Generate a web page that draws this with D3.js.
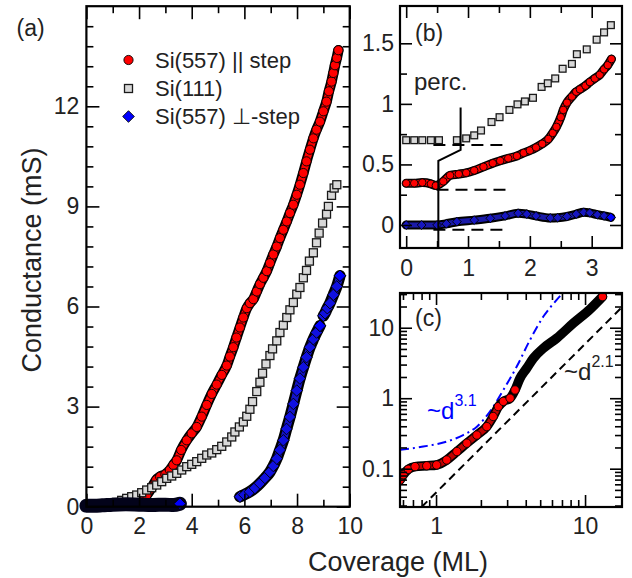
<!DOCTYPE html>
<html><head><meta charset="utf-8">
<script src="https://cdn.jsdelivr.net/npm/d3@7"></script>
<style>
html,body{margin:0;padding:0;background:#fff;}
svg{display:block;}
</style></head><body>
<svg id="chart" width="632" height="578"></svg>
<script>
// ---------------- DATA ----------------
// Panel (a): Conductance (mS) vs Coverage (ML)
const legendLabels = ["Si(557) || step", "Si(111)", "Si(557) \u22A5-step"];
const aTicksX = [0, 2, 4, 6, 8, 10];
const aMinorX = [1, 3, 5, 7, 9];
const aTicksY = [0, 3, 6, 9, 12];
const aMinorY = [0.6,1.2,1.8,2.4,3.6,4.2,4.8,5.4,6.6,7.2,7.8,8.4,9.6,10.2,10.8,11.4,12.6,13.2,13.8,14.4];

const redA = [[0,0.0],[0.5,0.02],[1.0,0.05],[1.5,0.08],[1.9,0.12],[2.1,0.2],[2.29,0.35],[2.5,0.6],[2.65,0.8],[2.8,0.9],[3.0,0.97],[3.17,1.1],[3.3,1.25],[3.43,1.39],[3.6,1.7],[3.81,1.99],[4.0,2.2],[4.19,2.39],[4.38,2.7],[4.57,3.05],[4.76,3.38],[4.95,3.66],[5.14,3.95],[5.33,4.23],[5.45,4.5],[5.58,4.78],[5.7,5.07],[5.83,5.37],[5.96,5.67],[6.09,5.95],[6.21,6.1],[6.34,6.22],[6.47,6.45],[6.59,6.67],[6.72,6.86],[6.85,7.06],[6.97,7.3],[7.10,7.56],[7.23,7.8],[7.35,8.05],[7.48,8.3],[7.61,8.55],[7.73,8.8],[7.86,9.05],[7.99,9.35],[8.11,9.65],[8.24,10.0],[8.36,10.35],[8.49,10.7],[8.62,11.04],[8.74,11.3],[8.87,11.54],[9.0,11.85],[9.12,12.14],[9.21,12.45],[9.31,12.74],[9.38,13.0],[9.44,13.23],[9.51,13.45],[9.57,13.68]];

const greyA = [[0,0],[0.19,0.01],[0.38,0.02],[0.57,0.04],[0.77,0.06],[0.96,0.09],[1.15,0.13],[1.34,0.19],[1.53,0.25],[1.72,0.30],[1.91,0.35],[2.10,0.42],[2.29,0.50],[2.48,0.57],[2.67,0.65],[2.86,0.75],[3.05,0.85],[3.24,0.92],[3.43,1.00],[3.62,1.10],[3.81,1.20],[4.00,1.27],[4.19,1.35],[4.38,1.45],[4.57,1.55],[4.76,1.61],[4.95,1.71],[5.14,1.81],[5.33,1.94],[5.52,2.09],[5.64,2.24],[5.81,2.39],[5.96,2.54],[6.09,2.71],[6.21,2.92],[6.31,3.15],[6.47,3.45],[6.59,3.73],[6.69,4.00],[6.82,4.28],[6.97,4.53],[7.07,4.73],[7.23,4.97],[7.35,5.22],[7.48,5.44],[7.61,5.67],[7.73,5.90],[7.86,6.12],[7.99,6.37],[8.11,6.57],[8.24,6.86],[8.36,7.08],[8.47,7.36],[8.62,7.61],[8.74,7.91],[8.84,8.20],[8.97,8.50],[9.12,8.77],[9.19,9.00],[9.31,9.33],[9.41,9.55],[9.51,9.65]];

const blueA1 = [[0,0.03],[0.3,0.03],[0.6,0.04],[1.0,0.06],[1.5,0.07],[2.0,0.06],[2.5,0.05],[3.0,0.06],[3.3,0.05],[3.55,0.09]];
const blueA2 = [[5.83,0.30],[6.0,0.36],[6.21,0.45],[6.4,0.56],[6.59,0.70],[6.78,0.86],[6.97,1.04],[7.1,1.22],[7.23,1.44],[7.35,1.7],[7.48,1.99],[7.6,2.33],[7.73,2.69],[7.86,3.08],[7.99,3.48],[8.11,3.84],[8.24,4.18],[8.36,4.48],[8.49,4.78],[8.62,5.02],[8.74,5.22],[8.87,5.42]];
const blueA3 = [[9.0,5.72],[9.06,5.8],[9.15,5.95],[9.25,6.1],[9.38,6.35],[9.51,6.6],[9.63,6.92]];

// Panel (b): low-coverage detail (offset curves)
const bTicksX = [0, 1, 2, 3];
const bMinorX = [0.5, 1.5, 2.5];
const bTicksY = [0, 0.5, 1, 1.5];
const bMinorY = [0.25, 0.75, 1.25];
const greyB = [[0,0.70],[0.13,0.70],[0.26,0.70],[0.40,0.70],[0.53,0.70],[0.82,0.70],[0.97,0.715],[1.10,0.74],[1.21,0.78],[1.38,0.85],[1.51,0.89],[1.67,0.95],[1.80,0.996],[1.92,1.02],[2.05,1.05],[2.19,1.14],[2.29,1.17],[2.41,1.21],[2.53,1.29],[2.68,1.33],[2.76,1.41],[2.92,1.45],[3.08,1.53],[3.20,1.59],[3.31,1.65]];
const redB = [[0,0.344],[0.13,0.345],[0.26,0.35],[0.4,0.34],[0.48,0.325],[0.6,0.36],[0.71,0.41],[0.85,0.42],[0.97,0.43],[1.1,0.45],[1.25,0.48],[1.4,0.51],[1.52,0.53],[1.65,0.55],[1.79,0.57],[1.9,0.595],[2.0,0.615],[2.1,0.64],[2.2,0.67],[2.3,0.71],[2.37,0.76],[2.43,0.81],[2.5,0.89],[2.54,0.95],[2.6,1.01],[2.68,1.06],[2.75,1.10],[2.81,1.12],[2.9,1.15],[2.97,1.18],[3.05,1.21],[3.13,1.24],[3.2,1.285],[3.26,1.32],[3.32,1.37]];
const blueB = [[0,0.0],[0.25,0.0],[0.5,0.0],[0.65,0.01],[0.82,0.027],[1.1,0.04],[1.36,0.055],[1.6,0.075],[1.81,0.097],[1.95,0.09],[2.1,0.075],[2.33,0.058],[2.45,0.06],[2.6,0.07],[2.75,0.09],[2.87,0.105],[2.97,0.1],[3.09,0.085],[3.2,0.075],[3.31,0.063]];
const zeroGreyB = [[0.44,0.66],[1.65,0.66]];
const zeroRedB = [[0.49,0.29],[1.68,0.29]];
const zeroBlueB = [[0.44,-0.04],[1.65,-0.04]];
const percLineB = [[0.52,-0.19],[0.52,0.53],[0.88,0.62],[0.88,0.97]];

// Panel (c): log-log
const cTicksX = [1, 10];
const cMinorX = [0.6,0.7,0.8,0.9,2,3,4,5,6,7,8,9];
const cTicksY = [0.1, 1, 10];
const cMinorY = [0.03,0.04,0.05,0.06,0.07,0.08,0.09,0.2,0.3,0.4,0.5,0.6,0.7,0.8,0.9,2,3,4,5,6,7,8,9,20,30];
const redC = [[0.573,0.069],[0.603,0.082],[0.652,0.098],[0.723,0.107],[0.866,0.110],[1.01,0.113],[1.18,0.133],[1.38,0.175],[1.61,0.23],[1.88,0.30],[2.19,0.395],[2.42,0.55],[2.62,0.76],[2.83,0.90],[3.14,1.0],[3.39,1.31],[3.66,1.92],[4.06,2.66],[4.50,3.69],[5.25,5.12],[6.45,7.1],[8.35,11.6],[10.8,18.3],[13.1,27.6]];
const fit31 = [[0.573,0.185],[0.82,0.206],[1.12,0.235],[1.52,0.30],[1.88,0.395],[2.30,0.646],[2.83,1.31],[3.48,2.81],[4.27,6.7],[5.25,14.4],[6.45,24.8],[7.08,31]];
const fit21 = [[0.80,0.0286],[17.7,19.6]];

// ---------------- DRAWING ----------------
const FONT = '"Liberation Sans", Arial, Helvetica, sans-serif';
const TXT = "#222";
const svg = d3.select("#chart").attr("font-family", FONT);

function axes(g, x, y, o) {
  const [x0, x1] = x.range(), [y0, y1] = y.range();
  const add = (axis, tr) => {
    const a = g.append("g").attr("transform", tr).call(axis)
      .attr("font-family", FONT).attr("font-size", o.font);
    a.select(".domain").remove();
    a.selectAll("line").attr("stroke", "#000").attr("stroke-width", 1.6);
    a.selectAll("text").attr("fill", TXT);
    return a;
  };
  add(d3.axisBottom(x).tickValues(o.xMajor).tickSize(-o.major).tickPadding(o.xPad).tickFormat(o.fmt), `translate(0,${y0})`);
  add(d3.axisBottom(x).tickValues(o.xMinor).tickSize(-o.minor).tickFormat(""), `translate(0,${y0})`);
  add(d3.axisTop(x).tickValues(o.xMajor).tickSize(-o.major).tickFormat(""), `translate(0,${y1})`);
  add(d3.axisTop(x).tickValues(o.xMinor).tickSize(-o.minor).tickFormat(""), `translate(0,${y1})`);
  add(d3.axisLeft(y).tickValues(o.yMajor).tickSize(-o.major).tickPadding(o.yPad).tickFormat(o.fmt), `translate(${x0},0)`);
  add(d3.axisLeft(y).tickValues(o.yMinor).tickSize(-o.minor).tickFormat(""), `translate(${x0},0)`);
  add(d3.axisRight(y).tickValues(o.yMajor).tickSize(-o.major).tickFormat(""), `translate(${x1},0)`);
  add(d3.axisRight(y).tickValues(o.yMinor).tickSize(-o.minor).tickFormat(""), `translate(${x1},0)`);
}
function frame(g, x, y) {
  const [x0, x1] = x.range(), [y0, y1] = y.range();
  g.append("rect").attr("x", x0).attr("y", y1).attr("width", x1 - x0).attr("height", y0 - y1)
    .attr("fill", "none").attr("stroke", "#000").attr("stroke-width", 2.2);
}
function clip(id, x, y) {
  const [x0, x1] = x.range(), [y0, y1] = y.range();
  svg.append("clipPath").attr("id", id).append("rect")
    .attr("x", x0).attr("y", y1).attr("width", x1 - x0).attr("height", y0 - y1);
}
function band(g, data, x, y, w, color, curve) {
  g.append("path").datum(data)
    .attr("d", d3.line().x(d => x(d[0])).y(d => y(d[1])).curve(curve || d3.curveMonotoneX))
    .attr("fill", "none").attr("stroke", color).attr("stroke-width", w)
    .attr("stroke-linecap", "round").attr("stroke-linejoin", "round");
}
function line(g, data, x, y, w, color, dash, curve) {
  g.append("path").datum(data)
    .attr("d", d3.line().x(d => x(d[0])).y(d => y(d[1])).curve(curve || d3.curveLinear))
    .attr("fill", "none").attr("stroke", color).attr("stroke-width", w)
    .attr("stroke-dasharray", dash || null);
}
function circles(g, data, x, y, r, fill) {
  g.selectAll(null).data(data).join("circle")
    .attr("cx", d => x(d[0])).attr("cy", d => y(d[1])).attr("r", r)
    .attr("fill", fill).attr("stroke", "#000").attr("stroke-width", 0.9);
}
function squares(g, data, x, y, s, fill) {
  g.selectAll(null).data(data).join("rect")
    .attr("x", d => x(d[0]) - s / 2).attr("y", d => y(d[1]) - s / 2)
    .attr("width", s).attr("height", s)
    .attr("fill", fill).attr("stroke", "#1a1a1a").attr("stroke-width", 1.3);
}
function diamonds(g, data, x, y, r, fill) {
  g.selectAll(null).data(data).join("path")
    .attr("d", d => `M${x(d[0])},${y(d[1]) - r}L${x(d[0]) + r},${y(d[1])}L${x(d[0])},${y(d[1]) + r}L${x(d[0]) - r},${y(d[1])}Z`)
    .attr("fill", fill).attr("stroke", "#000").attr("stroke-width", 0.9);
}

// ----- Panel (a) -----
const xa = d3.scaleLinear([0, 10], [86.4, 349.7]);
const ya = d3.scaleLinear([0, 15], [506.7, 6.2]);
const ga = svg.append("g");
const da = ga.append("g");
// red
band(da, redA, xa, ya, 10.5, "#000");
band(da, redA, xa, ya, 7, "#ff0000");
circles(da, redA, xa, ya, 4.6, "#ff0000");
// grey squares
squares(da, greyA, xa, ya, 8, "#d8d8d8");
// blue
band(da, blueA1, xa, ya, 14, "#03031a");
diamonds(da, blueA1.slice(-1), xa, ya, 5.8, "#0000ff");
[blueA2, blueA3].forEach(s => {
  band(da, s, xa, ya, 11.5, "#000");
  band(da, s, xa, ya, 7, "#1414c8");
  diamonds(da, s, xa, ya, 5.8, "#1010e0");
});
diamonds(da, [blueA2[blueA2.length - 1], blueA3[blueA3.length - 1]], xa, ya, 5.8, "#0000ff");
axes(ga, xa, ya, {xMajor: aTicksX, xMinor: aMinorX, yMajor: aTicksY, yMinor: aMinorY,
  major: 13, minor: 7, xPad: 10.5, yPad: 7, font: 23, fmt: d => String(d)});
frame(ga, xa, ya);
// legend
const lg = ga.append("g");
const lgx = 128.5, lgy = [60, 88.5, 116.5];
lg.append("circle").attr("cx", lgx).attr("cy", lgy[0]).attr("r", 4.6).attr("fill", "#ff0000").attr("stroke", "#000").attr("stroke-width", 0.9);
lg.append("rect").attr("x", lgx - 4).attr("y", lgy[1] - 4).attr("width", 8).attr("height", 8).attr("fill", "#d8d8d8").attr("stroke", "#1a1a1a").attr("stroke-width", 1.3);
lg.append("path").attr("d", `M${lgx},${lgy[2] - 5.8}L${lgx + 5.8},${lgy[2]}L${lgx},${lgy[2] + 5.8}L${lgx - 5.8},${lgy[2]}Z`).attr("fill", "#0000ff").attr("stroke", "#000").attr("stroke-width", 0.9);
lg.selectAll("text.leg").data(legendLabels).join("text").attr("class", "leg")
  .attr("x", 155).attr("y", (d, i) => lgy[i] + 7.5)
  .attr("font-size", 22).attr("fill", TXT).text(d => d);
ga.append("text").attr("x", 16.5).attr("y", 35.5).attr("font-size", 23).attr("fill", TXT).text("(a)");
ga.append("text").attr("transform", "translate(41,260) rotate(-90)").attr("text-anchor", "middle")
  .attr("font-size", 27).attr("fill", TXT).text("Conductance (mS)");

// ----- Panel (b) -----
const xb = d3.scaleLinear([-0.1, 3.49], [400, 622]);
const yb = d3.scaleLinear([-0.19, 1.808], [248, 6]);
clip("clipB", xb, yb);
const gb = svg.append("g");
const db = gb.append("g").attr("clip-path", "url(#clipB)");
squares(db, greyB, xb, yb, 6.8, "#d8d8d8");
band(db, redB, xb, yb, 9, "#000");
band(db, redB, xb, yb, 6, "#ff0000");
circles(db, redB, xb, yb, 3.8, "#ff0000");
band(db, blueB, xb, yb, 9, "#000");
band(db, blueB, xb, yb, 5, "#1a1aa8");
diamonds(db, blueB, xb, yb, 4.4, "#1616c0");
diamonds(db, blueB.slice(-1), xb, yb, 4.4, "#0000ff");
[zeroGreyB, zeroRedB, zeroBlueB].forEach(s => line(db, s, xb, yb, 2, "#000", "12,7"));
line(db, percLineB, xb, yb, 2, "#000");
axes(gb, xb, yb, {xMajor: bTicksX, xMinor: bMinorX, yMajor: bTicksY, yMinor: bMinorY,
  major: 12, minor: 7, xPad: 11.5, yPad: 6, font: 23, fmt: d => String(d)});
frame(gb, xb, yb);
gb.append("text").attr("x", 415).attr("y", 40.5).attr("font-size", 23).attr("fill", TXT).text("(b)");
gb.append("text").attr("x", 414).attr("y", 90).attr("font-size", 24).attr("fill", TXT).text("perc.");

// ----- Panel (c) -----
const xc = d3.scaleLog([0.573, 17.7], [400, 622]);
const yc = d3.scaleLog([0.0286, 31.1], [507, 293]);
clip("clipC", xc, yc);
const gc = svg.append("g");
const dc = gc.append("g").attr("clip-path", "url(#clipC)");
line(dc, fit31, xc, yc, 2, "#0000ff", "9,4,2,4", d3.curveMonotoneX);
line(dc, fit21, xc, yc, 2, "#000", "8,5");
band(dc, redC, xc, yc, 9.5, "#000");
band(dc, redC.filter(d => d[0] < 2.7), xc, yc, 6, "#c00000");
circles(dc, redC.filter(d => d[0] < 3.5), xc, yc, 4.2, "#ff0000");
circles(dc, redC.slice(-1), xc, yc, 4.2, "#ff0000");
axes(gc, xc, yc, {xMajor: cTicksX, xMinor: cMinorX, yMajor: cTicksY, yMinor: cMinorY,
  major: 12, minor: 7, xPad: 10.5, yPad: 6, font: 23, fmt: d => String(d)});
frame(gc, xc, yc);
gc.append("text").attr("x", 415).attr("y", 326).attr("font-size", 23).attr("fill", TXT).text("(c)");
const t31 = gc.append("text").attr("x", 427).attr("y", 419).attr("font-size", 24).attr("fill", "#0000ff");
t31.append("tspan").text("~d");
t31.append("tspan").attr("dy", -13).attr("font-size", 16).text("3.1");
const t21 = gc.append("text").attr("x", 564).attr("y", 380).attr("font-size", 24).attr("fill", TXT);
t21.append("tspan").text("~d");
t21.append("tspan").attr("dy", -13).attr("font-size", 16).text("2.1");

// shared x label
svg.append("text").attr("x", 398).attr("y", 571).attr("text-anchor", "middle")
  .attr("font-size", 27).attr("fill", TXT).text("Coverage (ML)");
</script>
</body></html>
